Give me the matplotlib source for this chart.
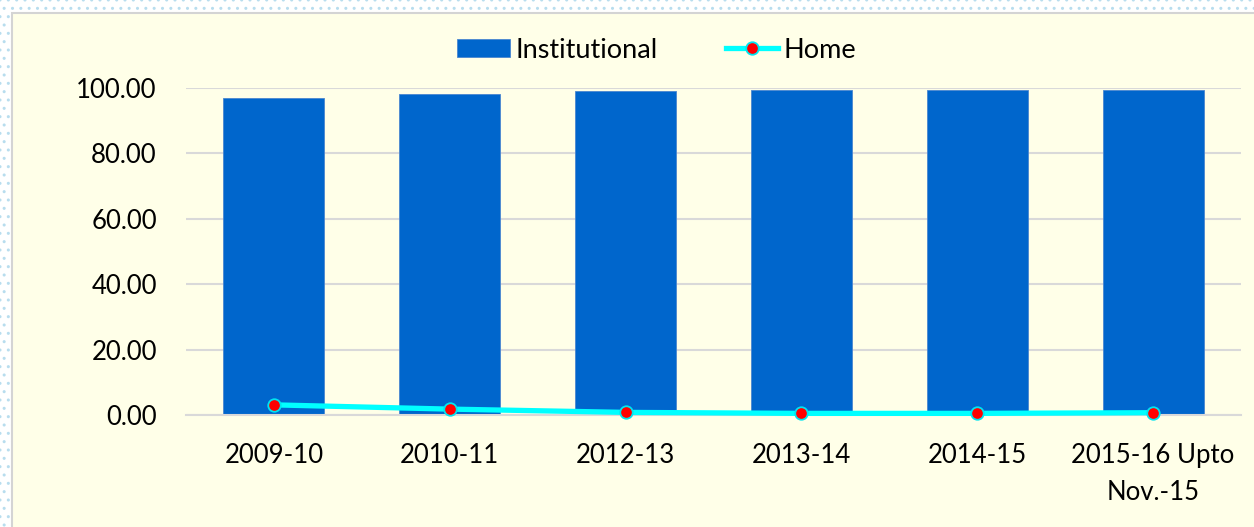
import matplotlib
matplotlib.use("Agg")
import matplotlib.pyplot as plt
from matplotlib.patches import Rectangle
import numpy as np

plt.rcParams['font.family'] = ['Lato', 'DejaVu Sans']

categories = ["2009-10", "2010-11", "2012-13", "2013-14", "2014-15", "2015-16 Upto\nNov.-15"]
institutional = [96.9, 98.2, 99.2, 99.5, 99.5, 99.3]
home = [3.1, 1.8, 0.8, 0.5, 0.5, 0.7]
yticks = [0, 20, 40, 60, 80, 100]

W, H = 1254, 527
fig = plt.figure(figsize=(W / 100, H / 100), dpi=100)
fig.patch.set_facecolor("white")

# dotted outer backdrop and the pale chart panel
fig.patches.append(Rectangle((0, 0), 1, 1, transform=fig.transFigure,
                             facecolor="white", edgecolor="#B8DDEE",
                             hatch="..", linewidth=0, zorder=-3))
fig.patches.append(Rectangle((12 / W, -0.05), 1.05, 1 - 13 / H + 0.05,
                             transform=fig.transFigure,
                             facecolor="#FFFFE8", edgecolor="#D4D4D4",
                             linewidth=1.5, zorder=-2))

ax = fig.add_axes([186 / W, (H - 415) / H, (1241 - 186) / W, (415 - 88) / H])
ax.set_facecolor("none")

x = np.arange(len(categories))
bars = ax.bar(x, institutional, width=0.575, color="#0066CC",
              edgecolor="#4A86D0", linewidth=0.6, label="Institutional", zorder=2)
line, = ax.plot(x, home, color="#00FFFF", linewidth=3.8, marker="o", markersize=9,
                markerfacecolor="#FF0000", markeredgecolor="#00E5F0", markeredgewidth=1.3,
                label="Home", zorder=3, clip_on=False)

ax.set_xlim(-0.5, len(categories) - 0.5)
ax.set_ylim(0, 100)
ax.set_yticks(yticks)
ax.set_yticklabels([f"{v:.2f}" for v in yticks])
ax.set_xticks(x)
ax.set_xticklabels(categories, linespacing=1.6)

ax.yaxis.grid(True, color="#D9D9D9", linewidth=1.5, zorder=0)
ax.set_axisbelow(True)
for s in ["top", "right", "left"]:
    ax.spines[s].set_visible(False)
ax.spines["bottom"].set_color("#D9D9D9")
ax.spines["bottom"].set_linewidth(1.5)
ax.tick_params(axis="both", length=0, labelsize=18.5, colors="black")
ax.tick_params(axis="y", pad=21)
ax.tick_params(axis="x", pad=20)

leg = fig.legend([bars, line], ["Institutional", "Home"], loc="center",
                 bbox_to_anchor=(657 / W, 1 - 50 / H), ncol=2,
                 frameon=False, fontsize=19.5, handlelength=1.95, handleheight=0.62,
                 handletextpad=0.2, columnspacing=2.5)

fig.savefig("out.png", dpi=100, facecolor=fig.get_facecolor())
